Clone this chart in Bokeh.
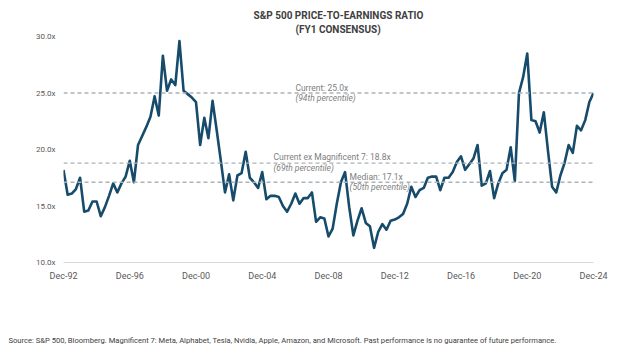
import pandas as pd
from bokeh.plotting import figure
from bokeh.layouts import column
from bokeh.models import Range1d, FixedTicker, Span, Label, Title
from bokeh.embed import file_html
from bokeh.resources import INLINE

# Quarterly forward P/E, Dec-92 .. Dec-24
quarters = pd.date_range("1992-12-31", "2024-12-31", freq="QE-DEC")
pe = [18.2, 16.0, 16.1, 16.5, 17.5, 14.5, 14.6, 15.4, 15.4, 14.1,
      14.9, 15.9, 17.0, 16.2, 17.0, 17.6, 19.0, 17.1, 20.4, 21.2,
      22.0, 22.9, 24.7, 23.0, 28.3, 25.2, 26.2, 25.7, 29.6, 25.2,
      24.9, 24.6, 24.2, 20.4, 22.8, 21.0, 24.3, 21.7, 19.0, 16.2,
      17.8, 15.5, 17.7, 17.9, 19.8, 17.5, 17.1, 16.6, 18.0, 15.6,
      15.9, 15.9, 15.8, 15.0, 14.5, 15.2, 16.1, 15.2, 15.7, 15.7,
      16.2, 13.6, 14.0, 13.9, 12.3, 13.0, 15.2, 17.1, 18.0, 14.9,
      12.4, 13.7, 14.8, 13.5, 13.2, 11.3, 12.7, 13.4, 12.9, 13.7,
      13.8, 14.0, 14.3, 15.2, 16.7, 15.8, 16.4, 16.6, 17.5, 17.6,
      17.6, 16.4, 17.5, 17.5, 18.0, 18.9, 19.4, 18.2, 18.7, 19.2,
      20.4, 16.8, 17.0, 18.1, 15.7, 17.0, 17.9, 18.2, 20.2, 17.2,
      25.0, 26.4, 28.5, 22.6, 22.5, 21.5, 23.3, 19.9, 16.7, 16.2,
      17.7, 18.8, 20.4, 19.7, 22.1, 21.7, 22.6, 24.2, 25.0]

ref_values = [25.0, 18.8, 17.1]
ref_names = ["Current: 25.0x", "Current ex Magnificent 7: 18.8x", "Median: 17.1x"]
ref_pct = ["(94th percentile)", "(69th percentile)", "(50th percentile)"]

y_ticks = [10, 15, 20, 25, 30]
y_tick_labels = ["10.0x", "15.0x", "20.0x", "25.0x", "30.0x"]
x_tick_years = [1992, 1996, 2000, 2004, 2008, 2012, 2016, 2020, 2024]

title_lines = ["S&P 500 PRICE-TO-EARNINGS RATIO", "(FY1 CONSENSUS)"]
source = ("Source: S&P 500, Bloomberg. Magnificent 7: Meta, Alphabet, Tesla, Nvidia, Apple, "
          "Amazon, and Microsoft. Past performance is no guarantee of future performance.")

x = list(range(len(pe)))
x_ticks = [i for i, d in enumerate(quarters) if d.month == 12 and d.year in x_tick_years]
x_tick_labels = {i: quarters[i].strftime("Dec-%y") for i in x_ticks}

FONT = "Roboto"
p = figure(width=616, height=300, output_backend="svg", toolbar_location=None,
           x_range=Range1d(0, len(pe) - 1), y_range=Range1d(10, 30),
           min_border_left=63, min_border_right=23, min_border_top=36, min_border_bottom=38)
p.outline_line_color = None
p.xgrid.visible = False
p.ygrid.visible = False
p.background_fill_color = "white"

# axes
p.xaxis.ticker = FixedTicker(ticks=x_ticks)
p.xaxis.major_label_overrides = x_tick_labels
p.xaxis.major_tick_line_color = None
p.xaxis.minor_tick_line_color = None
p.xaxis.major_tick_out = 0
p.xaxis.major_tick_in = 0
p.xaxis.axis_line_color = "#d9d9d9"
p.xaxis.major_label_standoff = 8
p.xaxis.major_label_text_font = FONT
p.xaxis.major_label_text_font_size = "9px"
p.xaxis.major_label_text_color = "#595959"

p.yaxis.ticker = FixedTicker(ticks=y_ticks)
p.yaxis.major_label_overrides = dict(zip(y_ticks, y_tick_labels))
p.yaxis.major_tick_line_color = None
p.yaxis.minor_tick_line_color = None
p.yaxis.major_tick_out = 0
p.yaxis.major_tick_in = 0
p.yaxis.axis_line_color = None
p.yaxis.major_label_standoff = 8
p.yaxis.major_label_text_font = FONT
p.yaxis.major_label_text_font_size = "8px"
p.yaxis.major_label_text_color = "#595959"

# reference lines
for v in ref_values:
    p.add_layout(Span(location=v, dimension="width", line_color="#a9b4ba",
                      line_dash="4 3", line_width=1.3))

p.line(x, pe, line_color="#174b6b", line_width=2.6, line_join="round")

# annotation texts
ann = [(56.0, 25.47, 24.53), (50.7, 19.31, 18.38), (69.1, 17.57, 16.68)]
for (ax, y1, y2), name, pct in zip(ann, ref_names, ref_pct):
    p.add_layout(Label(x=ax, y=y1, text=name, text_font=FONT, text_font_size="8.5px",
                       text_color="#808080", text_baseline="middle", text_align="left"))
    p.add_layout(Label(x=ax, y=y2, text=pct, text_font=FONT, text_font_size="8.5px",
                       text_font_style="italic", text_color="#808080",
                       text_baseline="middle", text_align="left"))

# title (inner line first)
p.add_layout(Title(text=title_lines[1], align="left", offset=232, standoff=3,
                   text_font=FONT, text_font_size="10px", text_font_style="bold",
                   text_color="#404040"), "above")
p.add_layout(Title(text=title_lines[0], align="left", offset=190, standoff=0,
                   text_font=FONT, text_font_size="10px", text_font_style="bold",
                   text_color="#404040"), "above")

# source note in a slim strip below the chart (frame aligned with the chart's frame)
foot = figure(width=616, height=50, output_backend="svg", toolbar_location=None,
              x_range=Range1d(0, 1), y_range=Range1d(0, 1),
              x_axis_type=None, y_axis_type=None,
              min_border_left=63, min_border_right=23, min_border_top=46, min_border_bottom=2)
foot.outline_line_color = None
foot.xgrid.visible = False
foot.ygrid.visible = False
foot.add_layout(Title(text=source, align="left", offset=-55, standoff=4,
                      text_font=FONT, text_font_size="7.6px", text_font_style="normal",
                      text_color="#404040"), "above")

layout = column(p, foot, spacing=0)
open("out.html", "w").write(file_html(layout, INLINE))
